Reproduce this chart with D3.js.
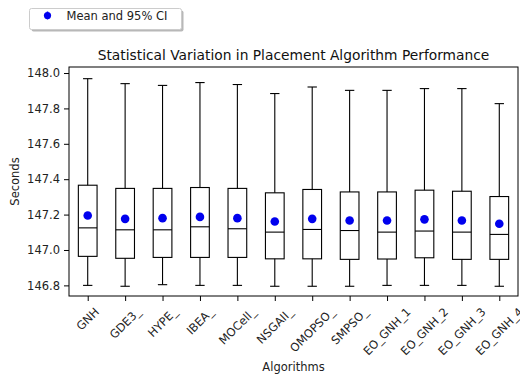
<!DOCTYPE html>
<html>
<head>
<meta charset="utf-8">
<script src="https://cdn.jsdelivr.net/npm/d3@7"></script>
<style>
  body { margin: 0; background: #fff; }
  svg { display: block; font-family: "DejaVu Sans", sans-serif; }
</style>
</head>
<body>
<svg id="chart" width="520" height="378"></svg>
<script>
const categories = ["GNH", "GDE3_", "HYPE_", "IBEA_", "MOCell_", "NSGAII_", "OMOPSO_", "SMPSO_", "EO_GNH_1", "EO_GNH_2", "EO_GNH_3", "EO_GNH_4"];
const whiskerLow  = [146.800, 146.795, 146.804, 146.800, 146.800, 146.795, 146.795, 146.795, 146.800, 146.800, 146.800, 146.795];
const q1          = [146.964, 146.953, 146.958, 146.958, 146.958, 146.950, 146.950, 146.947, 146.949, 146.956, 146.947, 146.947];
const medians     = [147.125, 147.114, 147.114, 147.131, 147.120, 147.101, 147.116, 147.110, 147.101, 147.107, 147.101, 147.088];
const q3          = [147.366, 147.348, 147.348, 147.353, 147.348, 147.323, 147.342, 147.328, 147.328, 147.338, 147.332, 147.302];
const whiskerHigh = [147.968, 147.940, 147.930, 147.946, 147.935, 147.884, 147.921, 147.902, 147.902, 147.912, 147.912, 147.827];
const means       = [147.195, 147.176, 147.180, 147.187, 147.180, 147.161, 147.176, 147.167, 147.167, 147.173, 147.167, 147.148];
const yTicks = [146.8, 147.0, 147.2, 147.4, 147.6, 147.8, 148.0];

const svg = d3.select("#chart");
const L = 69, R = 518, T = 67, B = 296;
const fs = 11.5;

const x = d3.scalePoint().domain(categories).range([L, R]).padding(0.5);
const y = d3.scaleLinear().domain([146.74, 148.034]).range([B, T]);
const step = x.step();
const bw = step * 0.5;
const cw = step * 0.25;

const data = categories.map((c, i) => ({
  c, lo: whiskerLow[i], q1: q1[i], med: medians[i], q3: q3[i], hi: whiskerHigh[i], mean: means[i]
}));

const g = svg.append("g");
const boxes = g.selectAll("g.box").data(data).join("g").attr("class", "box");
const stroke = "#000", sw = 1.1;
// whiskers
boxes.append("line").attr("x1", d => x(d.c)).attr("x2", d => x(d.c))
  .attr("y1", d => y(d.q3)).attr("y2", d => y(d.hi)).attr("stroke", stroke).attr("stroke-width", sw);
boxes.append("line").attr("x1", d => x(d.c)).attr("x2", d => x(d.c))
  .attr("y1", d => y(d.q1)).attr("y2", d => y(d.lo)).attr("stroke", stroke).attr("stroke-width", sw);
// caps
boxes.append("line").attr("x1", d => x(d.c) - cw / 2).attr("x2", d => x(d.c) + cw / 2)
  .attr("y1", d => y(d.hi)).attr("y2", d => y(d.hi)).attr("stroke", stroke).attr("stroke-width", sw);
boxes.append("line").attr("x1", d => x(d.c) - cw / 2).attr("x2", d => x(d.c) + cw / 2)
  .attr("y1", d => y(d.lo)).attr("y2", d => y(d.lo)).attr("stroke", stroke).attr("stroke-width", sw);
// box
boxes.append("rect").attr("x", d => x(d.c) - bw / 2).attr("width", bw)
  .attr("y", d => y(d.q3)).attr("height", d => y(d.q1) - y(d.q3))
  .attr("fill", "none").attr("stroke", stroke).attr("stroke-width", sw);
// median
boxes.append("line").attr("x1", d => x(d.c) - bw / 2).attr("x2", d => x(d.c) + bw / 2)
  .attr("y1", d => y(d.med)).attr("y2", d => y(d.med)).attr("stroke", stroke).attr("stroke-width", sw);
// mean
boxes.append("circle").attr("cx", d => x(d.c)).attr("cy", d => y(d.mean)).attr("r", 4.3).attr("fill", "#0000ee");

// frame
svg.append("rect").attr("x", L).attr("y", T).attr("width", R - L).attr("height", B - T)
  .attr("fill", "none").attr("stroke", "#000").attr("stroke-width", 1);

// y axis
const yAxis = svg.append("g").attr("transform", `translate(${L},0)`)
  .call(d3.axisLeft(y).tickValues(yTicks).tickFormat(d3.format(".1f")).tickSize(5).tickPadding(4));
yAxis.select(".domain").remove();
yAxis.selectAll("text").attr("font-size", fs).attr("fill", "#222").attr("font-family", "DejaVu Sans");
yAxis.selectAll("line").attr("stroke", "#000");

// x axis
const xAxis = svg.append("g").attr("transform", `translate(0,${B})`)
  .call(d3.axisBottom(x).tickSize(5).tickFormat(""));
xAxis.select(".domain").remove();
xAxis.selectAll("line").attr("stroke", "#000");

const labelTop = B + 5 + 4;
const xl = svg.append("g").selectAll("text").data(categories).join("text")
  .attr("font-size", fs).attr("fill", "#222").attr("text-anchor", "middle")
  .attr("dominant-baseline", "central").text(d => d);
xl.each(function (d) {
  const w = this.getComputedTextLength();
  const h = fs * 1.17;
  const bh = (w + h) * Math.SQRT1_2;
  const cx = x(d), cy = labelTop + bh / 2;
  d3.select(this).attr("x", cx).attr("y", cy).attr("transform", `rotate(-45,${cx},${cy})`);
});

// axis labels
svg.append("text").attr("x", (L + R) / 2).attr("y", 371).attr("text-anchor", "middle")
  .attr("font-size", fs).attr("fill", "#222").text("Algorithms");
svg.append("text").attr("transform", `translate(19,${(T + B) / 2}) rotate(-90)`).attr("text-anchor", "middle")
  .attr("font-size", fs).attr("fill", "#222").text("Seconds");

// title
svg.append("text").attr("x", (L + R) / 2).attr("y", 60).attr("text-anchor", "middle")
  .attr("font-size", 13.8).attr("fill", "#111").text("Statistical Variation in Placement Algorithm Performance");

// legend
const lg = svg.append("g");
lg.append("rect").attr("x", 31.5).attr("y", 10.5).attr("width", 152).attr("height", 21).attr("rx", 2)
  .attr("fill", "#888").attr("opacity", 0.6);
lg.append("rect").attr("x", 29.5).attr("y", 8.5).attr("width", 152).attr("height", 21).attr("rx", 2)
  .attr("fill", "#fff").attr("stroke", "#ccc").attr("stroke-width", 1);
lg.append("line").attr("x1", 47.5).attr("x2", 47.5).attr("y1", 11.5).attr("y2", 19.5)
  .attr("stroke", "#0000ee").attr("stroke-width", 1.5);
lg.append("circle").attr("cx", 47.5).attr("cy", 15.5).attr("r", 3.6).attr("fill", "#0000ee");
lg.append("text").attr("x", 66.5).attr("y", 19.8).attr("font-size", fs).attr("fill", "#222").text("Mean and 95% CI");
</script>
</body>
</html>
